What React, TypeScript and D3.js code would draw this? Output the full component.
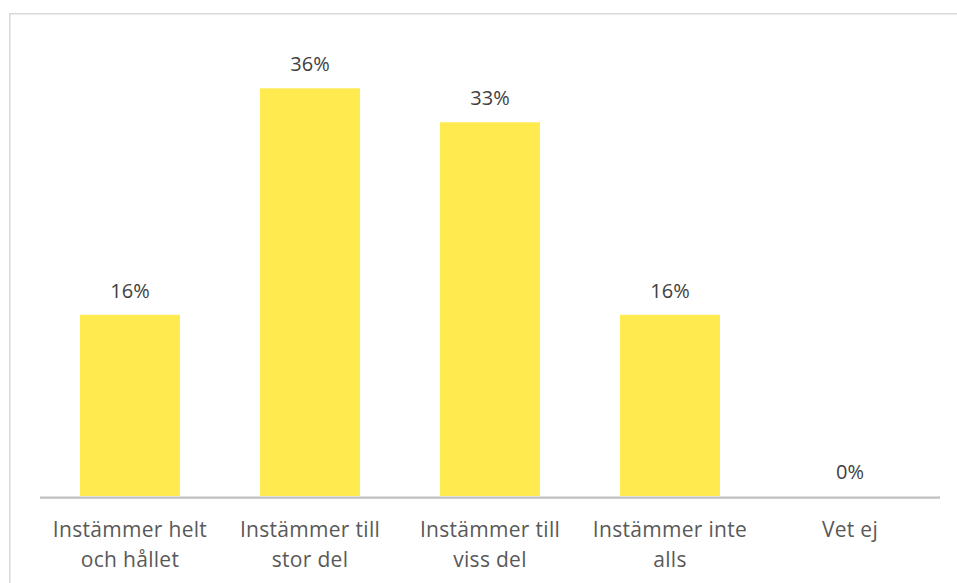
import React from "react";
import * as d3 from "d3";

const categories: string[][] = [
  ["Instämmer helt", "och hållet"],
  ["Instämmer till", "stor del"],
  ["Instämmer till", "viss del"],
  ["Instämmer inte", "alls"],
  ["Vet ej"],
];
const values: number[] = [0.16, 0.36, 0.33, 0.16, 0];
const yDomainMax = 0.4;

const W = 957;
const H = 583;
const plot = { left: 40, right: 940, top: 43, bottom: 496 };
const FONT = "'Open Sans', 'Noto Sans', sans-serif";

export default function App() {
  const keys = categories.map((c) => c.join(" "));
  const x = d3
    .scaleBand<string>()
    .domain(keys)
    .range([plot.left, plot.right])
    .paddingInner(80 / 180)
    .paddingOuter(40 / 180);
  const y = d3.scaleLinear().domain([0, yDomainMax]).range([plot.bottom, plot.top]);
  const fmt = d3.format(".0%");

  return (
    <svg
      width={W}
      height={H}
      style={{ position: "absolute", left: 0, top: 0, background: "#fff" }}
    >
      <rect x={9.75} y={13.75} width={W + 20} height={H + 20} fill="#fff" stroke="#D9D9D9" strokeWidth={1.5} />
      {values.map((v, i) => (
        <rect
          key={"b" + i}
          x={x(keys[i])}
          y={y(v)}
          width={x.bandwidth()}
          height={plot.bottom - y(v)}
          fill="#FFEB50"
        />
      ))}
      <line x1={plot.left} x2={plot.right} y1={497.6} y2={497.6} stroke="#BFBFBF" strokeWidth={2.25} />
      {values.map((v, i) => (
        <text
          key={"v" + i}
          x={(x(keys[i]) as number) + x.bandwidth() / 2}
          y={y(v) - 17}
          textAnchor="middle"
          fontFamily={FONT}
          fontSize={20}
          fill="#404040"
        >
          {fmt(v)}
        </text>
      ))}
      {categories.map((lines, i) => (
        <text
          key={"c" + i}
          x={(x(keys[i]) as number) + x.bandwidth() / 2}
          textAnchor="middle"
          fontFamily={FONT}
          fontSize={21}
          letterSpacing={0.3}
          fill="#595959"
        >
          {lines.map((l, j) => (
            <tspan key={j} x={(x(keys[i]) as number) + x.bandwidth() / 2} y={537 + j * 30}>
              {l}
            </tspan>
          ))}
        </text>
      ))}
    </svg>
  );
}
